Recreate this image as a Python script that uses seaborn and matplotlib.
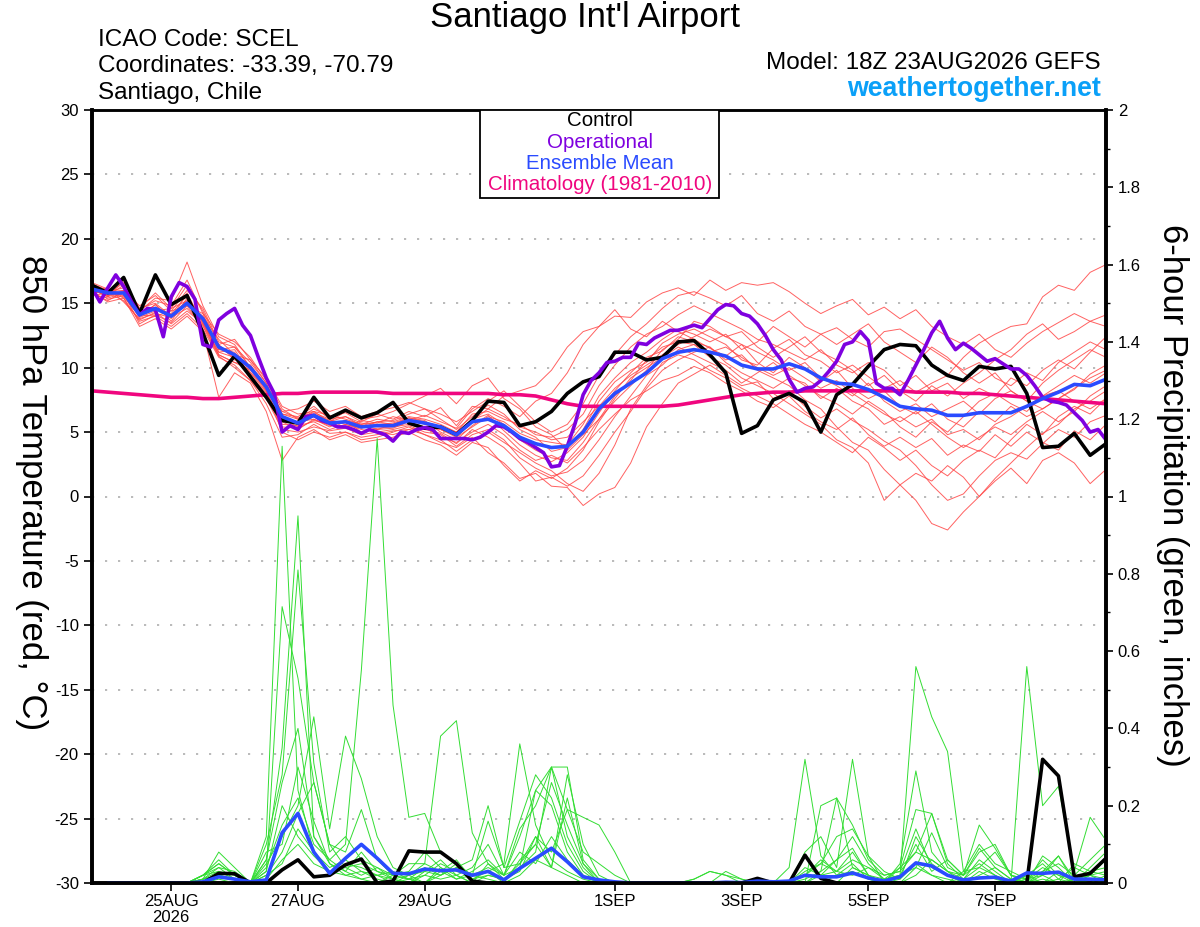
import pandas as pd
import seaborn as sns
import matplotlib
matplotlib.use("Agg")
from matplotlib import pyplot as plt
from matplotlib.patches import Rectangle
from matplotlib.ticker import MultipleLocator, FuncFormatter

# forecast hours after 18Z 23AUG2026
hours_6h = list(range(0, 385, 6))
hours_3h = list(range(0, 385, 3))
precip_hours = list(range(6, 385, 6))

tick_hours = [30, 78, 126, 198, 246, 294, 342]
tick_labels = ["25AUG\n2026", "27AUG", "29AUG", "1SEP", "3SEP", "5SEP", "7SEP"]

# 850 hPa temperature (C)
control_t = [16.4, 15.8, 17.0, 14.2, 17.2, 14.9, 15.6, 12.7, 9.4, 10.9, 9.3, 7.7, 5.9,
             5.7, 7.7, 6.1, 6.7, 6.1, 6.5, 7.3, 5.7, 5.3, 5.4, 4.8, 5.9, 7.4,
             7.3, 5.5, 5.8, 6.6, 8.0, 8.9, 9.3, 11.2, 11.2, 10.6, 10.8, 12.0, 12.1,
             11.0, 9.6, 4.9, 5.5, 7.5, 8.0, 7.3, 5.0, 7.9, 8.7, 10.1, 11.4, 11.8,
             11.7, 10.2, 9.4, 9.0, 10.1, 9.9, 10.1, 8.0, 3.8, 3.9, 4.9, 3.2, 4.1]

ens_mean_t = [16.1, 15.8, 15.8, 14.1, 14.6, 14.0, 15.0, 13.8, 11.6, 11.0, 10.0, 8.5, 6.2,
              5.7, 6.3, 5.7, 5.8, 5.4, 5.5, 5.5, 5.9, 5.7, 5.4, 4.8, 5.8, 6.0,
              5.5, 4.6, 4.1, 3.8, 3.9, 5.0, 6.8, 8.0, 8.8, 9.6, 10.7, 11.2, 11.4,
              11.2, 10.9, 10.2, 9.9, 9.9, 10.3, 9.9, 9.2, 8.8, 8.7, 8.3, 7.7, 7.0,
              6.8, 6.7, 6.3, 6.3, 6.5, 6.5, 6.5, 7.0, 7.6, 8.1, 8.7, 8.6, 9.1]

climo_t = [8.2, 8.1, 8.0, 7.9, 7.8, 7.7, 7.7, 7.6, 7.6, 7.7, 7.8, 7.9, 8.0,
           8.0, 8.1, 8.1, 8.1, 8.1, 8.1, 8.0, 8.0, 8.0, 8.0, 8.0, 8.0, 8.0,
           7.9, 7.9, 7.8, 7.5, 7.2, 7.0, 7.0, 7.0, 7.0, 7.0, 7.0, 7.1, 7.3,
           7.5, 7.7, 7.9, 8.0, 8.1, 8.1, 8.2, 8.2, 8.2, 8.2, 8.2, 8.2, 8.2,
           8.1, 8.1, 8.1, 8.0, 8.0, 7.9, 7.8, 7.7, 7.6, 7.5, 7.4, 7.3, 7.2]

# operational run, 3-hourly
operational_t = [16.2, 15.1, 16.2, 17.2, 16.3, 15.1, 14.1, 14.6,
                 14.5, 12.4, 15.5, 16.6, 16.3, 15.3, 11.8, 11.6,
                 13.7, 14.2, 14.6, 13.3, 12.5, 10.8, 9.2, 8.0,
                 5.0, 5.5, 5.2, 6.2, 6.3, 5.9, 5.7, 5.4,
                 5.4, 5.2, 4.9, 5.2, 5.0, 4.8, 4.3, 5.0,
                 4.9, 5.2, 5.35, 5.2, 4.5, 4.5, 4.5, 4.5,
                 4.4, 4.6, 5.0, 5.5, 5.4, 5.0, 4.5, 4.2,
                 3.8, 3.4, 2.3, 2.4, 3.9, 5.7, 7.9, 9.0,
                 9.6, 10.4, 10.5, 10.8, 10.8, 11.9, 11.8, 12.3,
                 12.6, 12.9, 12.9, 13.1, 13.3, 13.1, 13.8, 14.5,
                 14.9, 14.8, 14.2, 14.0, 13.4, 12.5, 11.4, 10.6,
                 9.1, 8.1, 8.4, 8.5, 9.0, 9.7, 10.5, 11.8,
                 12.0, 12.8, 12.1, 8.8, 8.4, 8.4, 7.9, 9.0,
                 10.2, 11.4, 12.7, 13.6, 12.3, 11.4, 11.9, 11.5,
                 11.0, 10.5, 10.7, 10.3, 9.9, 9.9, 9.4, 8.6,
                 7.7, 7.4, 7.3, 7.1, 6.5, 5.9, 5.0, 5.2,
                 4.4]

red_members = [
    [16.0, 15.6, 16.4, 14.5, 15.2, 14.8, 16.8, 14.2, 12.6, 12.0, 10.8, 9.0, 6.8,
     6.0, 6.8, 6.2, 6.5, 5.8, 6.4, 6.0, 6.6, 6.2, 6.9, 5.5, 7.0, 6.8,
     7.8, 8.2, 8.6, 9.8, 11.6, 12.8, 13.2, 14.0, 13.9, 15.1, 15.8, 16.2, 15.6,
     16.8, 16.0, 16.6, 16.4, 16.6, 15.9, 15.0, 14.2, 14.8, 15.3, 14.1, 14.7, 13.8,
     14.5, 13.2, 12.4, 11.8, 12.6, 11.4, 10.8, 11.9, 12.8, 13.5, 14.2, 13.6, 14.1],
    [16.5, 16.0, 15.4, 13.6, 14.0, 13.2, 14.2, 13.0, 10.8, 10.2, 9.0, 7.2, 4.6,
     4.8, 5.6, 4.9, 5.0, 4.4, 4.6, 5.0, 5.4, 4.8, 4.2, 3.8, 4.6, 3.4,
     2.6, 1.4, 1.8, 0.8, 0.7, -0.7, 0.2, 0.7, 2.6, 5.4, 7.2, 8.8, 9.5,
     10.2, 9.4, 8.6, 8.9, 7.6, 8.2, 7.0, 6.1, 6.8, 5.9, 5.2, 4.3, 3.6,
     2.4, 0.9, -0.3, 0.2, 1.6, 2.8, 3.4, 2.9, 4.1, 5.2, 4.6, 5.8, 6.3],
    [15.8, 15.2, 15.9, 14.0, 14.9, 13.6, 15.4, 13.5, 11.2, 11.4, 9.6, 8.1, 5.8,
     5.2, 6.0, 5.4, 5.9, 5.0, 5.2, 5.6, 6.1, 5.9, 5.0, 4.4, 5.5, 6.3,
     5.1, 4.0, 3.2, 2.7, 3.4, 4.6, 6.5, 8.2, 9.6, 10.8, 11.3, 12.4, 12.0,
     11.6, 10.6, 11.0, 9.8, 9.2, 8.6, 7.5, 6.8, 5.4, 4.2, 3.6, 2.1, 0.9,
     -0.3, -2.1, -2.6, -1.2, 0.0, 1.4, 2.6, 3.8, 4.9, 5.6, 6.8, 7.4, 8.2],
    [16.2, 15.5, 16.0, 14.8, 15.6, 14.4, 16.0, 14.6, 12.0, 11.6, 10.4, 8.8, 6.4,
     6.2, 7.0, 6.0, 6.2, 5.5, 5.8, 5.9, 6.4, 6.8, 6.0, 5.2, 6.2, 7.1,
     6.4, 5.2, 4.6, 3.5, 3.8, 5.2, 7.4, 8.9, 9.8, 10.4, 11.9, 12.6, 13.0,
     12.4, 11.8, 10.6, 10.2, 11.5, 12.2, 11.0, 10.5, 9.6, 10.2, 9.3, 8.4, 9.0,
     8.1, 8.8, 9.4, 10.8, 11.9, 12.6, 13.2, 13.4, 15.5, 16.4, 16.0, 17.4, 18.0],
    [15.9, 16.2, 15.1, 13.8, 14.2, 13.9, 14.6, 13.3, 11.0, 10.4, 9.8, 8.2, 5.6,
     5.5, 5.8, 5.2, 5.6, 5.2, 5.0, 4.8, 5.2, 5.4, 4.6, 4.2, 5.0, 5.6,
     4.8, 3.6, 2.8, 3.2, 2.6, 3.8, 5.2, 6.4, 7.5, 8.2, 9.0, 9.4, 10.1,
     9.6, 8.8, 8.2, 7.4, 6.9, 7.8, 6.6, 5.8, 5.2, 6.1, 4.8, 3.9, 4.6,
     3.8, 4.5, 3.2, 4.0, 3.5, 4.8, 3.9, 5.0, 4.2, 3.6, 5.1, 4.4, 5.6],
    [16.4, 15.3, 15.6, 13.9, 14.4, 14.6, 15.2, 13.9, 11.8, 10.6, 10.2, 8.6, 6.6,
     6.1, 6.5, 6.0, 5.3, 5.9, 5.7, 6.2, 5.9, 6.3, 5.8, 5.3, 6.8, 7.6,
     7.0, 6.2, 7.4, 8.0, 9.6, 11.8, 13.2, 14.5, 13.0, 12.4, 13.6, 12.8, 12.2,
     11.5, 10.9, 11.8, 10.4, 9.6, 10.8, 10.0, 8.9, 9.8, 8.4, 7.6, 8.2, 7.0,
     6.4, 7.2, 6.0, 5.4, 6.6, 5.8, 7.0, 6.2, 6.8, 7.6, 8.3, 9.5, 10.2],
    [16.0, 15.9, 16.2, 14.2, 14.5, 14.2, 15.6, 13.6, 11.4, 11.2, 9.4, 8.0, 6.0,
     5.8, 6.0, 5.5, 5.9, 5.6, 5.2, 5.3, 5.8, 5.4, 5.2, 4.6, 5.4, 6.2,
     5.8, 4.9, 4.4, 4.2, 4.0, 5.6, 7.8, 9.2, 10.4, 11.2, 12.2, 13.0, 12.6,
     12.0, 12.6, 11.4, 12.0, 13.2, 12.4, 11.6, 12.6, 13.1, 12.2, 11.6, 12.8, 13.0,
     12.2, 11.4, 10.6, 9.8, 10.4, 9.2, 8.6, 9.6, 9.0, 10.4, 11.2, 12.0, 11.4],
    [15.7, 15.4, 15.8, 13.4, 14.1, 13.5, 14.8, 13.2, 10.9, 10.0, 9.0, 7.6, 5.2,
     5.0, 5.4, 5.1, 5.3, 4.8, 5.0, 5.2, 5.5, 5.0, 4.8, 3.9, 4.8, 5.2,
     4.4, 3.0, 2.2, 1.6, 1.9, 2.8, 4.4, 6.2, 7.8, 9.4, 10.2, 11.4, 11.8,
     10.8, 10.2, 9.2, 8.6, 8.0, 7.2, 6.4, 5.6, 4.4, 3.8, 2.6, -0.3, 0.9,
     1.8, 1.2, 2.4, 1.5, 0.0, 1.2, 2.2, 1.0, 2.8, 3.4, 2.6, 1.0, 2.1],
    [16.6, 16.1, 15.6, 14.6, 15.0, 14.0, 15.0, 14.0, 12.2, 11.0, 10.6, 9.2, 7.0,
     6.4, 6.6, 6.3, 6.0, 5.6, 6.0, 5.8, 6.2, 6.0, 5.6, 5.0, 6.4, 6.6,
     6.0, 5.6, 4.8, 4.6, 5.2, 6.4, 8.6, 10.2, 11.6, 12.6, 13.2, 14.1, 14.8,
     14.2, 13.6, 13.0, 12.2, 11.8, 11.2, 10.6, 11.4, 10.2, 9.6, 10.4, 9.8, 8.6,
     9.4, 8.2, 8.8, 7.6, 8.4, 7.8, 9.2, 8.6, 9.8, 10.6, 9.9, 11.2, 12.4],
    [15.6, 15.8, 15.2, 13.7, 14.3, 13.4, 14.4, 13.4, 11.2, 10.8, 9.2, 7.8, 5.4,
     5.3, 5.9, 5.6, 5.4, 5.0, 5.3, 5.4, 5.6, 5.2, 4.9, 4.1, 5.2, 4.6,
     3.8, 2.6, 1.2, 1.5, 0.8, 1.6, 3.2, 5.0, 6.6, 8.4, 9.8, 10.6, 11.2,
     11.6, 10.4, 9.6, 9.0, 8.4, 9.2, 8.8, 7.6, 8.4, 7.4, 6.8, 5.6, 6.2,
     5.4, 6.0, 4.8, 5.2, 4.4, 5.6, 6.2, 7.0, 7.8, 8.6, 9.4, 8.8, 9.6],
    [16.3, 15.7, 16.6, 14.4, 15.4, 15.2, 18.2, 14.8, 12.4, 11.8, 10.0, 8.4, 6.6,
     6.8, 7.4, 6.6, 7.0, 6.2, 6.6, 6.9, 7.3, 6.8, 6.4, 5.8, 6.6, 7.4,
     8.2, 7.0, 5.8, 5.0, 5.6, 7.2, 9.4, 11.0, 12.4, 13.4, 14.6, 15.6, 15.9,
     15.4, 14.8, 15.6, 14.2, 13.6, 14.4, 13.2, 12.6, 11.8, 12.6, 13.4, 12.0, 11.2,
     10.4, 11.6, 10.8, 9.6, 8.8, 9.6, 8.2, 7.4, 6.8, 7.6, 8.4, 9.2, 9.8],
    [15.9, 15.1, 15.4, 13.2, 13.8, 13.0, 14.0, 12.8, 7.7, 9.6, 8.8, 6.6, 2.8,
     4.6, 5.2, 4.4, 4.8, 4.2, 4.4, 4.6, 5.0, 4.4, 4.0, 3.2, 4.2, 3.8,
     2.4, 1.2, 2.0, 1.4, 2.2, 3.6, 5.8, 7.6, 9.2, 10.0, 10.8, 11.6, 11.0,
     10.4, 9.8, 8.8, 9.6, 10.4, 9.4, 8.6, 7.8, 7.2, 6.4, 7.4, 6.6, 5.4,
     4.6, 5.8, 5.0, 6.2, 7.4, 8.0, 7.2, 6.6, 7.8, 8.2, 7.4, 6.8, 7.6],
    [16.1, 15.5, 16.8, 14.6, 15.8, 14.6, 16.4, 14.4, 11.8, 12.2, 10.6, 8.8, 6.2,
     5.6, 6.2, 5.8, 6.6, 6.0, 6.2, 6.6, 7.2, 7.8, 8.4, 7.2, 8.6, 9.2,
     7.6, 6.8, 5.4, 4.8, 3.6, 4.8, 6.0, 7.4, 8.6, 9.8, 11.4, 12.2, 13.6,
     13.2, 12.4, 12.8, 11.6, 10.8, 11.6, 12.4, 11.2, 10.6, 9.8, 8.6, 9.4, 8.2,
     7.4, 8.6, 7.8, 8.8, 9.6, 10.6, 11.4, 12.6, 13.4, 12.2, 12.8, 13.6, 13.2],
    [16.0, 15.6, 15.9, 14.3, 14.7, 14.1, 15.2, 13.6, 11.0, 10.4, 10.2, 8.2, 5.0,
     4.4, 5.0, 4.6, 5.0, 4.6, 4.8, 5.1, 5.2, 4.8, 4.4, 3.5, 4.4, 5.0,
     4.2, 3.4, 2.6, 2.0, 1.0, 0.4, 1.8, 4.0, 6.8, 8.6, 10.4, 11.0, 10.6,
     9.8, 9.2, 8.4, 7.8, 7.2, 6.4, 5.6, 5.0, 4.2, 3.4, 4.6, 3.8, 2.8,
     3.6, 2.4, 1.6, 2.8, 3.6, 3.0, 4.4, 5.6, 4.8, 6.2, 7.0, 6.4, 7.6],
    [16.3, 16.0, 15.5, 14.0, 14.9, 13.8, 15.8, 13.4, 11.6, 10.8, 9.6, 8.4, 6.0,
     5.4, 6.4, 5.9, 5.6, 5.3, 5.8, 5.6, 6.0, 5.6, 5.2, 4.8, 5.9, 6.8,
     6.2, 5.4, 5.0, 4.4, 4.6, 5.8, 7.0, 8.4, 9.4, 10.2, 11.0, 11.8, 12.4,
     13.0, 12.4, 11.8, 11.2, 10.6, 9.8, 10.4, 9.2, 8.6, 7.8, 8.8, 7.4, 6.6,
     7.2, 6.2, 6.8, 7.4, 6.4, 7.6, 8.2, 7.4, 8.8, 9.8, 10.6, 11.4, 10.8],
    [15.8, 15.9, 16.0, 14.1, 14.0, 14.4, 14.8, 14.2, 11.4, 11.6, 10.0, 8.6, 6.4,
     6.0, 6.6, 5.8, 6.2, 5.7, 5.6, 5.7, 6.1, 5.8, 5.4, 5.0, 6.0, 6.4,
     5.6, 4.4, 3.6, 3.0, 2.8, 4.2, 6.0, 7.8, 9.0, 10.6, 11.6, 12.0, 11.8,
     11.2, 11.6, 10.8, 10.0, 9.4, 10.0, 9.2, 8.4, 9.0, 8.0, 7.2, 6.4, 5.8,
     6.6, 5.6, 4.6, 3.8, 4.6, 5.4, 4.8, 5.8, 6.6, 5.8, 6.6, 7.8, 8.6],
]

# 6-hour precipitation (inches)
control_p = [0, 0, 0, 0, 0, 0, 0, 0.025,
             0.024, 0, 0, 0.034, 0.06, 0.016, 0.02, 0.047,
             0.062, 0, 0.005, 0.083, 0.08, 0.08, 0.05, 0.005,
             0, 0, 0, 0, 0, 0, 0, 0,
             0, 0, 0, 0, 0, 0, 0, 0,
             0, 0.012, 0, 0, 0.072, 0.012, 0, 0,
             0, 0, 0, 0, 0, 0, 0, 0,
             0, 0, 0, 0.32, 0.277, 0.016, 0.025, 0.064]

mean_p = [0, 0, 0, 0, 0, 0, 0.003, 0.016,
          0.01, 0.003, 0.008, 0.13, 0.18, 0.08, 0.025, 0.064,
          0.10, 0.064, 0.025, 0.024, 0.036, 0.032, 0.034, 0.02,
          0.03, 0.008, 0.038, 0.064, 0.09, 0.055, 0.016, 0.008,
          0.003, 0, 0, 0, 0, 0, 0, 0.002,
          0.001, 0.005, 0.003, 0.005, 0.02, 0.016, 0.016, 0.026,
          0.013, 0.005, 0.016, 0.052, 0.044, 0.02, 0.008, 0.013,
          0.015, 0.005, 0.026, 0.025, 0.028, 0.01, 0.01, 0.008]

green_members = [
    [0, 0, 0, 0, 0, 0, 0.02, 0.05, 0.02, 0, 0.12, 1.13, 0.24, 0.08, 0.04, 0.06,
     0.03, 0.02, 0, 0.01, 0.04, 0.02, 0.05, 0.01, 0.03, 0, 0.06, 0.1, 0.04, 0.02, 0, 0,
     0, 0, 0, 0, 0, 0, 0, 0, 0, 0, 0, 0, 0.02, 0.06, 0.03, 0.08,
     0.02, 0, 0.01, 0.12, 0.05, 0.02, 0, 0.03, 0.01, 0, 0.02, 0, 0.01, 0.04, 0.02, 0.01],
    [0, 0, 0, 0, 0, 0, 0.01, 0.08, 0.04, 0, 0.06, 0.35, 0.95, 0.12, 0.05, 0.03,
     0.01, 0, 0.02, 0.03, 0.08, 0.04, 0.02, 0, 0.05, 0.02, 0.12, 0.24, 0.3, 0.19, 0.08, 0.05,
     0.02, 0, 0, 0, 0, 0, 0, 0, 0, 0, 0, 0.04, 0.32, 0.07, 0.02, 0.05,
     0.01, 0, 0, 0.04, 0.02, 0.01, 0, 0, 0, 0, 0.02, 0.05, 0.01, 0, 0.03, 0.02],
    [0, 0, 0, 0, 0, 0, 0.01, 0.04, 0.03, 0, 0.03, 0.715, 0.53, 0.26, 0.1, 0.04,
     0.05, 0.03, 0.01, 0, 0.02, 0.05, 0.03, 0.02, 0.01, 0, 0.02, 0.06, 0.04, 0.28, 0.1, 0.02,
     0, 0, 0, 0, 0, 0, 0, 0.03, 0.01, 0, 0, 0, 0, 0.2, 0.22, 0.04,
     0.02, 0, 0.05, 0.29, 0.08, 0.03, 0, 0.02, 0.04, 0.01, 0, 0.03, 0.07, 0, 0.01, 0],
    [0, 0, 0, 0, 0, 0, 0.02, 0.03, 0.01, 0, 0.1, 0.28, 0.81, 0.31, 0.08, 0.12,
     0.06, 0.04, 0.02, 0.01, 0, 0.03, 0.06, 0.01, 0.02, 0.01, 0.04, 0.08, 0.3, 0.12, 0.04, 0,
     0, 0, 0, 0, 0, 0, 0, 0, 0, 0, 0, 0, 0.08, 0.12, 0.04, 0.32,
     0.07, 0, 0.02, 0.56, 0.43, 0.34, 0.03, 0.04, 0.02, 0, 0.01, 0.04, 0.02, 0.01, 0, 0.02],
    [0, 0, 0, 0, 0, 0, 0.01, 0.02, 0.01, 0, 0.04, 0.15, 0.22, 0.1, 0.06, 0.1,
     0.55, 1.15, 0.46, 0.17, 0.18, 0.08, 0.05, 0.02, 0.04, 0.02, 0.08, 0.05, 0.12, 0.06, 0.02, 0,
     0, 0, 0, 0, 0, 0, 0, 0, 0, 0, 0, 0, 0.02, 0.05, 0.03, 0.02,
     0.04, 0.02, 0.03, 0.08, 0.18, 0.06, 0.02, 0.15, 0.09, 0.02, 0.01, 0, 0.03, 0, 0.02, 0.06],
    [0, 0, 0, 0, 0, 0, 0.02, 0.06, 0.02, 0, 0.05, 0.12, 0.2, 0.43, 0.14, 0.38,
     0.27, 0.12, 0.04, 0.02, 0.05, 0.03, 0.01, 0.02, 0.03, 0.05, 0.36, 0.15, 0.06, 0.03, 0.01, 0,
     0, 0, 0, 0, 0, 0, 0, 0, 0, 0, 0, 0, 0, 0.03, 0.06, 0.09,
     0.02, 0.01, 0.04, 0.19, 0.18, 0.05, 0.01, 0.06, 0.03, 0, 0.56, 0.2, 0.25, 0.03, 0.17, 0.11],
    [0, 0, 0, 0, 0, 0, 0, 0.02, 0.01, 0, 0.02, 0.08, 0.18, 0.26, 0.1, 0.08,
     0.19, 0.06, 0.02, 0.05, 0.05, 0.38, 0.42, 0.13, 0.05, 0.01, 0.03, 0.12, 0.08, 0.19, 0.17, 0.15,
     0.08, 0, 0, 0, 0, 0, 0, 0, 0, 0, 0, 0, 0, 0, 0.02, 0.03,
     0.01, 0, 0, 0.02, 0.06, 0.03, 0.01, 0, 0, 0, 0.01, 0.02, 0, 0.01, 0, 0],
    [0, 0, 0, 0, 0, 0, 0.01, 0.03, 0.02, 0, 0.01, 0.06, 0.1, 0.05, 0.03, 0.04,
     0.02, 0.04, 0.01, 0, 0.03, 0.02, 0.04, 0.06, 0.2, 0.04, 0.16, 0.28, 0.22, 0.1, 0.03, 0,
     0, 0, 0, 0, 0, 0.01, 0.03, 0.02, 0, 0, 0, 0, 0.04, 0.02, 0.06, 0.12,
     0.05, 0.01, 0.02, 0.1, 0.03, 0.06, 0.02, 0.09, 0.04, 0.01, 0, 0.02, 0.07, 0.01, 0.02, 0],
    [0, 0, 0, 0, 0, 0, 0, 0.01, 0, 0, 0.02, 0.05, 0.14, 0.08, 0.02, 0.05,
     0.04, 0.02, 0.01, 0.02, 0, 0.04, 0.01, 0.03, 0.06, 0.02, 0.14, 0.2, 0.3, 0.3, 0.06, 0.01,
     0, 0, 0, 0, 0, 0, 0, 0, 0, 0, 0, 0, 0.01, 0.03, 0.22, 0.15,
     0.06, 0.02, 0.03, 0.14, 0.04, 0.02, 0.01, 0.04, 0.08, 0.02, 0, 0.01, 0, 0.05, 0.03, 0.04],
    [0, 0, 0, 0, 0, 0, 0.02, 0.04, 0.01, 0, 0.08, 0.1, 0.3, 0.16, 0.05, 0.02,
     0.03, 0.01, 0, 0.02, 0.03, 0.06, 0.02, 0, 0.02, 0.01, 0.05, 0.1, 0.26, 0.15, 0.05, 0,
     0, 0, 0, 0, 0, 0, 0, 0, 0, 0, 0, 0, 0.03, 0.05, 0.12, 0.14,
     0.07, 0.03, 0.01, 0.05, 0.02, 0, 0.03, 0.1, 0.05, 0.03, 0.01, 0.06, 0.02, 0, 0.04, 0.08],
    [0, 0, 0, 0, 0, 0, 0.01, 0.02, 0.01, 0, 0.03, 0.2, 0.12, 0.07, 0.03, 0.02,
     0.01, 0.02, 0.03, 0.01, 0.02, 0.01, 0.02, 0.04, 0.1, 0.02, 0.04, 0.24, 0.2, 0.08, 0.02, 0,
     0, 0, 0, 0, 0, 0.01, 0.03, 0.02, 0.01, 0, 0, 0, 0, 0, 0, 0.04,
     0.02, 0, 0.04, 0.08, 0.06, 0.03, 0.02, 0.05, 0.02, 0, 0, 0.07, 0.04, 0, 0.02, 0.03],
    [0, 0, 0, 0, 0, 0, 0.02, 0.05, 0.02, 0, 0.06, 0.26, 0.4, 0.12, 0.06, 0.03,
     0.08, 0.03, 0.02, 0.01, 0, 0.02, 0.04, 0.02, 0.16, 0.04, 0.05, 0.12, 0.04, 0.22, 0.05, 0.01,
     0, 0, 0, 0, 0, 0, 0, 0, 0, 0, 0, 0, 0, 0.02, 0.03, 0.06,
     0.04, 0.01, 0.02, 0.04, 0.13, 0.04, 0.02, 0.08, 0.1, 0.02, 0.01, 0.03, 0.05, 0.02, 0.06, 0.1],
]

RED = "#ff4646"
GREEN = "#33dd33"
PURPLE = "#7f00df"
BLUE = "#2a4bff"
MAGENTA = "#f0067f"

sns.set_style("ticks")
plt.rcParams["font.family"] = ["Liberation Sans", "DejaVu Sans"]
plt.rcParams["text.color"] = "black"
plt.rcParams["axes.labelcolor"] = "black"
plt.rcParams["xtick.color"] = "black"
plt.rcParams["ytick.color"] = "black"

fig = plt.figure(figsize=(12, 9.27), dpi=100)
ax = fig.add_axes([92 / 1200, 44 / 927, 1014 / 1200, 773 / 927])

temp_df = pd.DataFrame(
    [(m, h, v) for m, vals in enumerate(red_members) for h, v in zip(hours_6h, vals)],
    columns=["member", "hour", "temp"])
sns.lineplot(data=temp_df, x="hour", y="temp", units="member", estimator=None,
             color=RED, lw=0.7, alpha=0.85, ax=ax, legend=False)
sns.lineplot(x=hours_6h, y=climo_t, color=MAGENTA, lw=2.6, ax=ax)
sns.lineplot(x=hours_6h, y=control_t, color="black", lw=2.6, ax=ax)
sns.lineplot(x=hours_3h, y=operational_t, color=PURPLE, lw=2.6, ax=ax)
sns.lineplot(x=hours_6h, y=ens_mean_t, color=BLUE, lw=2.6, ax=ax)

ax.set_xlim(0, 384)
ax.set_ylim(-30, 30)
ax.yaxis.set_major_locator(MultipleLocator(5))
ax.yaxis.set_major_formatter(FuncFormatter(lambda v, p: f"{v:g}"))
ax.yaxis.grid(True, color="#b4b4b4", linestyle=(0, (1.2, 6)), lw=1.3)
ax.set_axisbelow(True)
ax.set_xticks(tick_hours)
ax.set_xticklabels(tick_labels, fontsize=12, linespacing=1.05)
ax.tick_params(axis="y", direction="out", length=6, width=1.2, labelsize=12)
ax.tick_params(axis="x", direction="out", length=6, width=1.2, labelsize=12, pad=2)
ax.set_xlabel("")
ax.set_ylabel("")

ax2 = ax.twinx()
precip_df = pd.DataFrame(
    [(m, h, v) for m, vals in enumerate(green_members) for h, v in zip(precip_hours, vals)],
    columns=["member", "hour", "precip"])
sns.lineplot(data=precip_df, x="hour", y="precip", units="member", estimator=None,
             color=GREEN, lw=0.7, ax=ax2, legend=False)
sns.lineplot(x=precip_hours, y=control_p, color="black", lw=2.6, ax=ax2)
sns.lineplot(x=precip_hours, y=mean_p, color=BLUE, lw=2.6, ax=ax2)
ax2.set_ylim(0, 2)
ax2.set_xlim(0, 384)
ax2.yaxis.set_major_locator(MultipleLocator(0.2))
ax2.yaxis.set_minor_locator(MultipleLocator(0.1))
ax2.yaxis.set_major_formatter(FuncFormatter(lambda v, p: f"{round(v, 1):g}"))
ax2.tick_params(axis="y", which="major", direction="out", length=5, width=1.2, labelsize=12)
ax2.tick_params(axis="y", which="minor", direction="out", length=3, width=1.0)
ax2.set_ylabel("")
ax2.set_xlabel("")

for a in (ax, ax2):
    for side in ("left", "right", "bottom"):
        a.spines[side].set_linewidth(2.6)
        a.spines[side].set_color("black")
    a.spines["top"].set_linewidth(1.8)
    a.spines["top"].set_color("black")
    a.spines["top"].set_visible(True)
    a.spines["right"].set_visible(True)

# legend box
ax2.add_patch(Rectangle((0.3826, 0.886), 0.2357, 0.114, transform=ax2.transAxes,
                        facecolor="white", edgecolor="black", lw=1.3, zorder=5))
legend_items = [("Control", "black", 0.9858), ("Operational", PURPLE, 0.9586),
                ("Ensemble Mean", BLUE, 0.9314), ("Climatology (1981-2010)", MAGENTA, 0.9030)]
for label, col, ypos in legend_items:
    ax2.text(0.501, ypos, label, color=col, fontsize=14.8, ha="center", va="center",
             transform=ax2.transAxes, zorder=6)

# header texts
fig.text(585 / 1200, 1 - 18 / 927, "Santiago Int'l Airport", fontsize=25, ha="center", va="center")
fig.text(98 / 1200, 1 - 40 / 927, "ICAO Code: SCEL", fontsize=17.5, ha="left", va="center")
fig.text(98 / 1200, 1 - 66 / 927, "Coordinates: -33.39, -70.79", fontsize=17.5, ha="left", va="center")
fig.text(98 / 1200, 1 - 93 / 927, "Santiago, Chile", fontsize=17.5, ha="left", va="center")
fig.text(1101 / 1200, 1 - 63 / 927, "Model: 18Z 23AUG2026 GEFS", fontsize=17.5, ha="right", va="center")
fig.text(1101 / 1200, 1 - 89 / 927, "weathertogether.net", fontsize=19.3, fontweight="bold",
         color="#0aa0f8", ha="right", va="center")

fig.text(31 / 1200, 1 - 493 / 927, "850 hPa Temperature (red, \u00b0C)", fontsize=25,
         rotation=-90, ha="center", va="center")
fig.text(1172 / 1200, 1 - 495 / 927, "6-hour Precipitation (green, inches)", fontsize=25,
         rotation=-90, ha="center", va="center")

fig.savefig("out.png", dpi=100)
